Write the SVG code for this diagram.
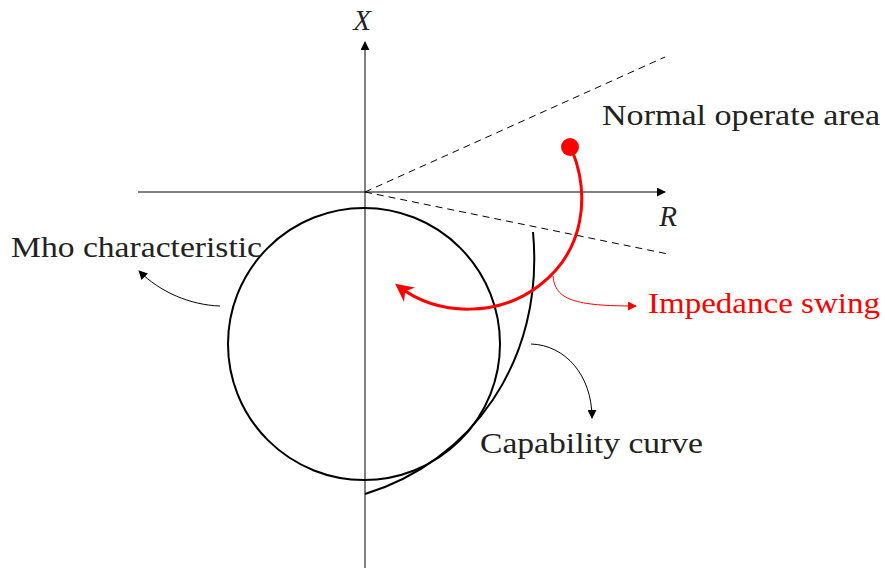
<svg xmlns="http://www.w3.org/2000/svg" width="885" height="569" viewBox="0 0 885 569">
<defs>
<marker id="ah" viewBox="0 0 10 10" refX="9" refY="5" markerWidth="9" markerHeight="9" markerUnits="userSpaceOnUse" orient="auto"><path d="M0,0 L10,5 L0,10 z" fill="#000"/></marker>
<marker id="ahr" viewBox="0 0 10 10" refX="9" refY="5" markerWidth="9" markerHeight="9" markerUnits="userSpaceOnUse" orient="auto"><path d="M0,0 L10,5 L0,10 z" fill="#f00"/></marker>
<marker id="ahrb" viewBox="0 0 10 10" refX="8" refY="5" markerWidth="18" markerHeight="18" markerUnits="userSpaceOnUse" orient="auto"><path d="M0,0 L10,5 L0,10 L3,5 z" fill="#f00"/></marker>
</defs>
<style>
text{font-family:"Liberation Serif","DejaVu Serif",serif;font-size:29px;fill:#222}
.it{font-style:italic}
.ax{stroke:#000;stroke-width:1;fill:none}
.thick{stroke:#000;stroke-width:2;fill:none}
.ann{stroke:#000;stroke-width:1;fill:none}
.dash{stroke:#000;stroke-width:1;stroke-dasharray:7,5;fill:none}
</style>
<g id="axes">
<line class="ax" x1="365" y1="568" x2="365" y2="42" marker-end="url(#ah)"/>
<line class="ax" x1="138" y1="192" x2="665" y2="192" marker-end="url(#ah)"/>
<text class="it" x="362" y="30" text-anchor="middle">X</text>
<text class="it" x="668" y="226" text-anchor="middle">R</text>
</g>
<g id="normal-area">
<line class="dash" x1="365" y1="192" x2="665" y2="57"/>
<line class="dash" x1="365" y1="192" x2="668" y2="254"/>
<text x="602" y="125" textLength="278" lengthAdjust="spacingAndGlyphs">Normal operate area</text>
</g>
<g id="mho">
<circle class="thick" cx="364" cy="344" r="136"/>
<text x="11" y="257" textLength="251" lengthAdjust="spacingAndGlyphs">Mho characteristic</text>
</g>
<g id="capability">
<path class="thick" d="M365,494 C470,462 545,362 533,232"/>
<text x="480" y="453" textLength="223" lengthAdjust="spacingAndGlyphs">Capability curve</text>
</g>
<g id="swing">
<circle cx="570" cy="147" r="9" fill="#f00"/>
<path d="M572,150 C590,195 585,250 540,285 C500,316 440,318 398,286" stroke="#f00" stroke-width="3" fill="none" marker-end="url(#ahrb)"/>
<text x="648" y="313" textLength="232" lengthAdjust="spacingAndGlyphs" style="fill:#f00">Impedance swing</text>
</g>
<g id="connectors">
<path class="ann" d="M220,306 C190,305 160,292 139,271" marker-end="url(#ah)"/>
<path class="ann" d="M531,344 C565,345 592,375 592,418" marker-end="url(#ah)"/>
<path d="M553,276 C555,300 575,306 636,306" stroke="#f00" stroke-width="1" fill="none" marker-end="url(#ahr)"/>
</g>
</svg>
